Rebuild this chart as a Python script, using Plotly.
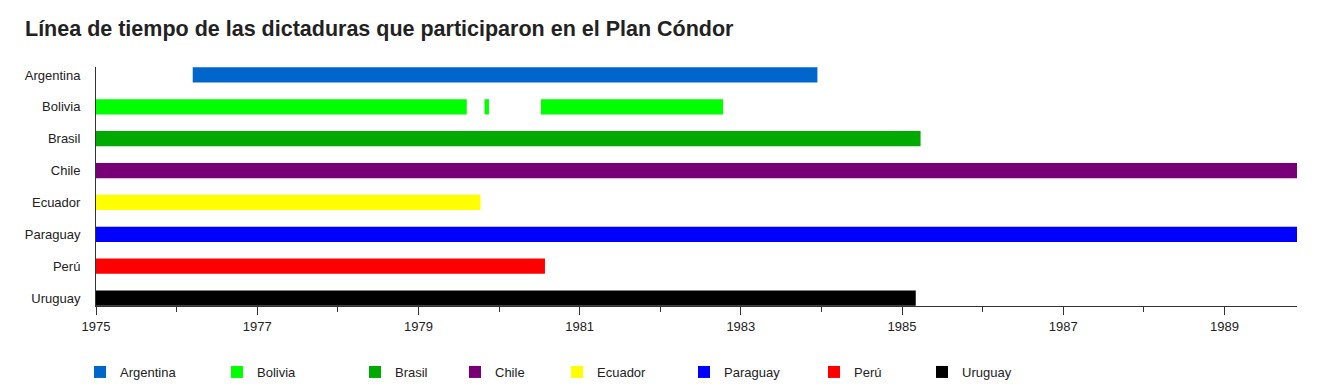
import plotly.graph_objects as go

# Data (years as decimal values)
countries = ["Argentina", "Bolivia", "Brasil", "Chile", "Ecuador", "Paraguay", "Perú", "Uruguay"]
colors = ["#0066cc", "#00ff00", "#00aa00", "#770077", "#ffff00", "#0000ff", "#ff0000", "#000000"]

# Periods per country: list of (start, end)
argentina = [(1976.20, 1983.95)]
bolivia = [(1975.0, 1979.60), (1979.82, 1979.875), (1980.52, 1982.78)]
brasil = [(1975.0, 1985.23)]
chile = [(1975.0, 1990.2)]
ecuador = [(1975.0, 1979.77)]
paraguay = [(1975.0, 1990.0)]
peru = [(1975.0, 1980.57)]
uruguay = [(1975.0, 1985.17)]

periods = [argentina, bolivia, brasil, chile, ecuador, paraguay, peru, uruguay]
legend_widths = [92, 93, 55, 57, 82, 85, 63, 60]

x_range = [1975, 1989.9]
tick_years = list(range(1975, 1990, 2))

fig = go.Figure()
for name, col, segs, lw in zip(countries, colors, periods, legend_widths):
    fig.add_trace(go.Bar(
        orientation="h",
        y=[name] * len(segs),
        base=[s for s, e in segs],
        x=[e - s for s, e in segs],
        name=name,
        marker=dict(color=col, line=dict(width=0)),
        width=0.48,
        legendwidth=lw,
        hovertemplate=name + ": %{base:.2f} – %{x:.2f}<extra></extra>",
    ))

font_family = "Liberation Sans, Arial, sans-serif"

# The page adds an 8px body margin, so the figure is 8px smaller than the window.
W, H = 1312, 377

fig.update_layout(
    width=W,
    height=H,
    margin=dict(l=88, r=23, t=59, b=79, autoexpand=False),
    paper_bgcolor="white",
    plot_bgcolor="white",
    barmode="overlay",
    font=dict(family=font_family, size=13, color="#222222"),
    title=dict(
        text="<b>Línea de tiempo de las dictaduras que participaron en el Plan Cóndor</b>",
        x=17 / W, xanchor="left",
        y=1 - 20 / H, yanchor="middle",
        font=dict(family=font_family, size=21.5, color="#222222"),
    ),
    showlegend=True,
    legend=dict(
        orientation="h",
        x=-16 / 1201, xanchor="left",
        y=-51 / 239, yanchor="top",
        font=dict(family=font_family, size=13, color="#222222"),
        itemclick=False,
    ),
    xaxis=dict(
        range=x_range,
        tickmode="array",
        tickvals=tick_years,
        ticktext=[str(y) for y in tick_years],
        ticks="outside",
        ticklen=8,
        tickwidth=1,
        tickcolor="#333333",
        showline=True,
        linecolor="#333333",
        linewidth=1,
        showgrid=False,
        zeroline=False,
        minor=dict(dtick=1, tick0=1975, ticks="outside", ticklen=5, tickcolor="#333333", showgrid=False),
        tickfont=dict(size=13, color="#222222"),
    ),
    yaxis=dict(
        categoryorder="array",
        categoryarray=countries,
        range=[7.25, -0.25],
        showline=True,
        linecolor="#333333",
        linewidth=1,
        showgrid=False,
        zeroline=False,
        ticks="",
        ticklabelstandoff=12,
        tickfont=dict(size=13, color="#222222"),
    ),
)

fig.write_html("out.html")
